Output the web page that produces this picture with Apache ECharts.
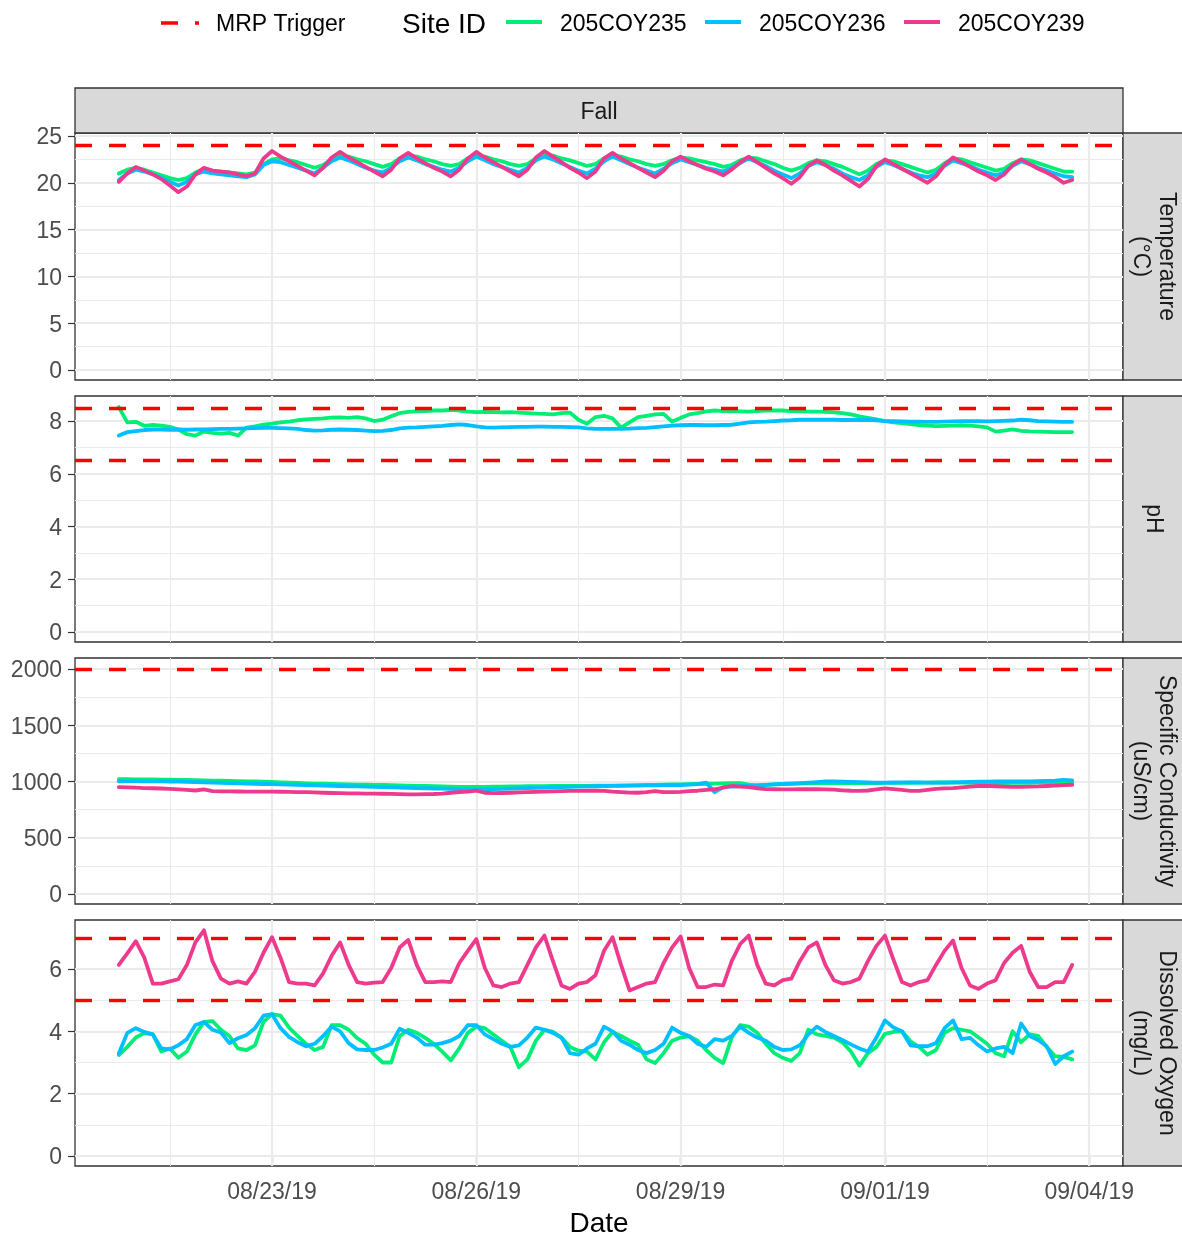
<!DOCTYPE html>
<html><head><meta charset="utf-8">
<script src="https://cdn.jsdelivr.net/npm/echarts@6/dist/echarts.min.js"></script>
<style>html,body{margin:0;padding:0;background:#fff}#chart{width:1182px;height:1234px}</style>
</head><body><div id="chart"></div>
<script>
// ---- sampling: 3-hourly readings starting 08/20/19 18:00 ----
const startTime = '2019-08-20T18:00:00Z';
const stepHours = 3;

const siteIds = ['205COY235', '205COY236', '205COY239'];
const siteColors = ['#00EE76', '#00BFFF', '#EE3A8C'];

// Temperature (°C)
const temp235 = [21.0, 21.4,
 21.6, 21.4, 21.1, 20.8, 20.5, 20.3, 20.5, 21.1,
 21.5, 21.3, 21.2, 21.1, 21.0, 20.9, 21.1, 22.0,
 22.5, 22.6, 22.4, 22.2, 21.9, 21.6, 21.9, 22.5,
 22.9, 22.8, 22.5, 22.3, 22.0, 21.7, 22.0, 22.6,
 22.9, 22.8, 22.5, 22.3, 22.0, 21.8, 22.0, 22.6,
 22.9, 22.8, 22.5, 22.3, 22.0, 21.8, 22.0, 22.6,
 23.0, 22.9, 22.6, 22.4, 22.1, 21.8, 22.0, 22.6,
 22.9, 22.8, 22.5, 22.3, 22.0, 21.8, 22.0, 22.4,
 22.7, 22.6, 22.4, 22.2, 22.0, 21.7, 21.9, 22.4,
 22.7, 22.6, 22.3, 22.0, 21.6, 21.3, 21.6, 22.1,
 22.4, 22.3, 22.0, 21.7, 21.3, 20.9, 21.3, 22.0,
 22.4, 22.3, 22.0, 21.7, 21.4, 21.1, 21.4, 22.1,
 22.6, 22.5, 22.2, 21.9, 21.6, 21.3, 21.5, 22.1,
 22.5, 22.4, 22.1, 21.8, 21.5, 21.2, 21.2];
const temp236 = [20.3, 21.0,
 21.4, 21.2, 20.9, 20.5, 20.1, 19.7, 20.1, 20.9,
 21.2, 21.0, 20.9, 20.8, 20.7, 20.6, 20.9, 21.9,
 22.3, 22.2, 21.9, 21.6, 21.3, 21.0, 21.6, 22.3,
 22.7, 22.4, 22.0, 21.6, 21.3, 21.1, 21.6, 22.3,
 22.7, 22.4, 22.0, 21.7, 21.4, 21.2, 21.6, 22.3,
 22.8, 22.4, 22.0, 21.7, 21.4, 21.1, 21.6, 22.4,
 22.8, 22.5, 22.1, 21.7, 21.3, 21.0, 21.5, 22.3,
 22.8, 22.4, 22.0, 21.6, 21.3, 21.0, 21.5, 22.1,
 22.5, 22.2, 21.9, 21.6, 21.4, 21.2, 21.6, 22.1,
 22.6, 22.2, 21.8, 21.3, 20.9, 20.5, 21.0, 21.8,
 22.2, 21.9, 21.5, 21.0, 20.6, 20.3, 20.8, 21.7,
 22.2, 21.9, 21.5, 21.1, 20.8, 20.6, 21.0, 21.8,
 22.4, 22.1, 21.8, 21.4, 21.1, 20.8, 21.1, 21.8,
 22.3, 22.0, 21.6, 21.3, 21.0, 20.7, 20.6];
const temp239 = [20.1, 21.0,
 21.7, 21.3, 20.9, 20.4, 19.7, 19.0, 19.6, 20.9,
 21.6, 21.3, 21.2, 21.1, 20.9, 20.7, 21.0, 22.6,
 23.4, 22.8, 22.3, 21.8, 21.3, 20.8, 21.6, 22.7,
 23.3, 22.7, 22.2, 21.7, 21.2, 20.7, 21.4, 22.6,
 23.2, 22.6, 22.1, 21.6, 21.2, 20.7, 21.4, 22.6,
 23.3, 22.7, 22.2, 21.7, 21.2, 20.7, 21.4, 22.7,
 23.4, 22.8, 22.2, 21.6, 21.1, 20.5, 21.2, 22.6,
 23.2, 22.6, 22.1, 21.6, 21.1, 20.6, 21.3, 22.3,
 22.8, 22.3, 21.9, 21.5, 21.2, 20.8, 21.4, 22.2,
 22.8, 22.2, 21.6, 21.0, 20.5, 19.9, 20.6, 21.8,
 22.4, 21.9, 21.3, 20.8, 20.2, 19.6, 20.4, 21.8,
 22.5, 22.0, 21.5, 21.0, 20.5, 20.0, 20.7, 21.9,
 22.7, 22.2, 21.7, 21.2, 20.8, 20.3, 20.9, 21.9,
 22.5, 22.0, 21.5, 21.1, 20.6, 20.0, 20.3];

// pH (site 205COY239 has no pH)
const ph235 = [8.53, 7.95,
 7.97, 7.82, 7.85, 7.83, 7.78, 7.68, 7.50, 7.45,
 7.60, 7.55, 7.52, 7.55, 7.45, 7.75, 7.80, 7.86,
 7.90, 7.95, 7.98, 8.03, 8.06, 8.08, 8.10, 8.13,
 8.14, 8.12, 8.15, 8.10, 8.00, 8.05, 8.18, 8.30,
 8.35, 8.37, 8.38, 8.40, 8.40, 8.42, 8.40, 8.36,
 8.34, 8.35, 8.34, 8.33, 8.34, 8.32, 8.30, 8.28,
 8.27, 8.25, 8.30, 8.32, 8.05, 7.90, 8.15, 8.20,
 8.10, 7.75, 7.95, 8.15, 8.20, 8.25, 8.27, 7.98,
 8.12, 8.25, 8.30, 8.37, 8.40, 8.38, 8.37, 8.37,
 8.36, 8.38, 8.40, 8.40, 8.40, 8.38, 8.37, 8.36,
 8.36, 8.35, 8.33, 8.30, 8.25, 8.18, 8.12, 8.06,
 8.00, 7.95, 7.92, 7.88, 7.85, 7.83, 7.81, 7.82,
 7.83, 7.84, 7.83, 7.80, 7.76, 7.60, 7.64, 7.68,
 7.63, 7.61, 7.60, 7.59, 7.58, 7.58, 7.58];
const ph236 = [7.45, 7.58,
 7.62, 7.66, 7.68, 7.68, 7.67, 7.68, 7.67, 7.68,
 7.68, 7.69, 7.70, 7.70, 7.71, 7.72, 7.73, 7.74,
 7.74, 7.73, 7.72, 7.70, 7.66, 7.64, 7.65, 7.67,
 7.68, 7.67, 7.66, 7.64, 7.62, 7.63, 7.66, 7.72,
 7.75, 7.76, 7.78, 7.80, 7.82, 7.85, 7.87, 7.85,
 7.80, 7.76, 7.75, 7.76, 7.77, 7.78, 7.78, 7.79,
 7.79, 7.78, 7.78, 7.77, 7.76, 7.72, 7.70, 7.70,
 7.70, 7.70, 7.71, 7.73, 7.74, 7.77, 7.80, 7.83,
 7.84, 7.85, 7.85, 7.84, 7.84, 7.85, 7.86, 7.90,
 7.95, 7.97, 7.98, 8.00, 8.02, 8.03, 8.05, 8.05,
 8.05, 8.05, 8.05, 8.04, 8.04, 8.04, 8.05, 8.03,
 8.00, 8.00, 7.99, 7.98, 7.98, 7.97, 7.97, 7.98,
 7.99, 8.00, 8.00, 8.00, 7.99, 8.00, 8.01, 8.02,
 8.05, 8.03, 8.00, 7.99, 7.98, 7.97, 7.97];

// Specific Conductivity (uS/cm)
const sc235 = [1020, 1020,
 1019, 1018, 1018, 1017, 1016, 1015, 1014, 1012,
 1010, 1008, 1007, 1005, 1003, 1002, 1000, 998,
 996, 993, 990, 987, 984, 982, 980, 978,
 976, 974, 972, 971, 970, 969, 968, 966,
 964, 962, 960, 958, 957, 955, 953, 952,
 952, 953, 954, 955, 956, 957, 958, 958,
 959, 960, 960, 961, 962, 962, 963, 964,
 964, 965, 966, 968, 969, 970, 972, 974,
 975, 976, 978, 980, 982, 984, 985, 985,
 972, 965, 970, 975, 978, 980, 982, 984,
 985, 986, 986, 986, 985, 985, 985, 986,
 987, 988, 988, 989, 990, 990, 991, 991,
 991, 990, 989, 988, 987, 986, 986, 987,
 988, 989, 990, 991, 992, 993, 993];
const sc236 = [1002, 1003,
 1003, 1002, 1002, 1001, 1000, 999, 997, 995,
 993, 990, 988, 985, 983, 981, 980, 978,
 976, 974, 972, 970, 968, 966, 964, 962,
 960, 958, 956, 954, 952, 950, 948, 946,
 944, 942, 940, 938, 936, 934, 932, 931,
 930, 931, 933, 935, 937, 939, 941, 943,
 945, 948, 950, 952, 954, 956, 958, 960,
 961, 962, 963, 964, 965, 966, 967, 968,
 969, 972, 976, 990, 905, 950, 955, 960,
 962, 966, 970, 974, 978, 982, 986, 990,
 995, 1000, 1000, 998, 996, 994, 992, 990,
 990, 991, 992, 992, 991, 990, 990, 990,
 992, 994, 996, 998, 999, 1000, 1000, 1001,
 1002, 1002, 1003, 1005, 1008, 1015, 1010];
const sc239 = [950, 948,
 945, 942, 940, 938, 935, 930, 925, 920,
 930, 915, 912, 912, 911, 910, 910, 910,
 910, 909, 908, 906, 905, 903, 900, 898,
 896, 895, 894, 893, 892, 891, 890, 888,
 886, 886, 887, 889, 893, 900, 906, 910,
 918, 900, 896, 898, 900, 903, 905, 908,
 910, 912, 914, 916, 917, 918, 918, 917,
 910, 906, 902, 900, 905, 915, 905, 906,
 908, 914, 918, 925, 931, 945, 960, 955,
 950, 940, 932, 931, 930, 930, 931, 931,
 931, 930, 927, 922, 918, 916, 920, 930,
 939, 932, 925, 917, 916, 925, 935, 939,
 942, 948, 955, 960, 961, 958, 955, 953,
 952, 954, 956, 960, 964, 968, 971];

// Dissolved Oxygen (mg/L)
const do235 = [3.24, 3.50,
 3.80, 3.94, 3.90, 3.35, 3.45, 3.15, 3.35, 3.90,
 4.30, 4.33, 4.05, 3.85, 3.45, 3.40, 3.55, 4.30,
 4.55, 4.50, 4.12, 3.85, 3.60, 3.40, 3.50, 4.20,
 4.20, 4.05, 3.78, 3.60, 3.25, 3.00, 3.00, 3.85,
 4.05, 3.95, 3.79, 3.60, 3.35, 3.07, 3.45, 3.95,
 4.15, 4.10, 3.90, 3.70, 3.50, 2.85, 3.10, 3.70,
 4.05, 3.98, 3.80, 3.50, 3.38, 3.35, 3.10, 3.65,
 3.98, 3.85, 3.70, 3.57, 3.10, 2.98, 3.30, 3.70,
 3.80, 3.84, 3.70, 3.40, 3.15, 2.98, 3.80, 4.20,
 4.15, 3.95, 3.60, 3.30, 3.15, 3.05, 3.30, 4.05,
 3.90, 3.85, 3.80, 3.65, 3.35, 2.90, 3.30, 3.50,
 3.92, 3.98, 4.00, 3.68, 3.50, 3.25, 3.40, 3.95,
 4.10, 4.05, 4.00, 3.80, 3.60, 3.30, 3.20, 4.00,
 3.65, 3.90, 3.85, 3.50, 3.20, 3.18, 3.10];
const do236 = [3.29, 3.95,
 4.10, 3.98, 3.90, 3.45, 3.42, 3.55, 3.75, 4.20,
 4.30, 4.05, 3.96, 3.62, 3.78, 3.88, 4.10, 4.50,
 4.55, 4.10, 3.82, 3.65, 3.52, 3.60, 3.85, 4.15,
 4.00, 3.62, 3.42, 3.40, 3.40, 3.48, 3.60, 4.08,
 3.95, 3.80, 3.57, 3.57, 3.62, 3.70, 3.85, 4.20,
 4.20, 3.90, 3.75, 3.60, 3.50, 3.55, 3.80, 4.12,
 4.05, 3.95, 3.80, 3.30, 3.25, 3.45, 3.60, 4.15,
 4.00, 3.70, 3.57, 3.40, 3.30, 3.40, 3.60, 4.12,
 3.95, 3.85, 3.60, 3.50, 3.75, 3.70, 3.85, 4.15,
 3.95, 3.80, 3.70, 3.50, 3.40, 3.42, 3.55, 3.90,
 4.15, 3.98, 3.85, 3.72, 3.58, 3.45, 3.35, 3.80,
 4.35, 4.12, 4.00, 3.55, 3.52, 3.52, 3.62, 4.10,
 4.35, 3.75, 3.79, 3.55, 3.35, 3.45, 3.50, 3.30,
 4.25, 3.85, 3.72, 3.52, 2.95, 3.20, 3.35];
const do239 = [6.13, 6.50,
 6.89, 6.36, 5.53, 5.53, 5.60, 5.67, 6.13, 6.85,
 7.24, 6.25, 5.69, 5.53, 5.60, 5.53, 5.91, 6.52,
 7.02, 6.36, 5.58, 5.53, 5.53, 5.47, 5.86, 6.42,
 6.85, 6.13, 5.58, 5.53, 5.56, 5.58, 6.03, 6.69,
 6.93, 6.13, 5.58, 5.58, 5.60, 5.58, 6.19, 6.58,
 6.96, 6.03, 5.47, 5.42, 5.53, 5.58, 6.13, 6.69,
 7.07, 6.25, 5.47, 5.36, 5.53, 5.58, 5.80, 6.58,
 7.02, 6.13, 5.31, 5.42, 5.53, 5.58, 6.19, 6.69,
 7.04, 6.03, 5.42, 5.42, 5.50, 5.47, 6.25, 6.80,
 7.07, 6.13, 5.53, 5.47, 5.64, 5.69, 6.25, 6.69,
 6.85, 6.13, 5.64, 5.53, 5.58, 5.69, 6.25, 6.74,
 7.07, 6.30, 5.58, 5.47, 5.58, 5.64, 6.13, 6.58,
 6.91, 6.03, 5.47, 5.36, 5.53, 5.64, 6.19, 6.52,
 6.74, 5.91, 5.42, 5.42, 5.58, 5.58, 6.13];

// MRP trigger levels per panel
const tempTrigger = [24];
const phTrigger = [8.5, 6.5];
const scTrigger = [2000];
const doTrigger = [7, 5];

// tick labels
const xTickDates = ['2019-08-23', '2019-08-26', '2019-08-29', '2019-09-01', '2019-09-04'];
const xMinorDates = ['2019-08-21T12:00:00Z', '2019-08-24T12:00:00Z', '2019-08-27T12:00:00Z', '2019-08-30T12:00:00Z', '2019-09-02T12:00:00Z'];
const tempTicks = [0, 5, 10, 15, 20, 25];
const tempMinor = [2.5, 7.5, 12.5, 17.5, 22.5];
const phTicks = [0, 2, 4, 6, 8];
const phMinor = [1, 3, 5, 7];
const scTicks = [0, 500, 1000, 1500, 2000];
const scMinor = [250, 750, 1250, 1750];
const doTicks = [0, 2, 4, 6];
const doMinor = [1, 3, 5];

const panelNames = ['Temperature\n(°C)', 'pH', 'Specific Conductivity\n(uS/cm)', 'Dissolved Oxygen\n(mg/L)'];

// ---- build ----
const t0 = Date.parse(startTime);
const toTs = s => Date.parse(s.length === 10 ? s + 'T00:00:00Z' : s);
const withTime = arr => arr.map((v, i) => [t0 + i * stepHours * 3600000, v]);

const FONT = "'Liberation Sans', Arial, sans-serif";
const xMin = Date.parse('2019-08-20T02:34:00Z');
const xMax = Date.parse('2019-09-04T11:54:00Z');

const panels = [
  { top: 133, height: 247, min: -1.07, max: 25.32, ticks: tempTicks, minor: tempMinor, trig: tempTrigger, series: [temp235, temp236, temp239] },
  { top: 396, height: 246, min: -0.38, max: 8.95, ticks: phTicks, minor: phMinor, trig: phTrigger, series: [ph235, ph236, null] },
  { top: 658, height: 246, min: -89, max: 2098, ticks: scTicks, minor: scMinor, trig: scTrigger, series: [sc235, sc236, sc239] },
  { top: 920, height: 246, min: -0.32, max: 7.57, ticks: doTicks, minor: doMinor, trig: doTrigger, series: [do235, do236, do239] }
];

const pad = n => (n < 10 ? '0' : '') + n;
const fmtDate = v => { const d = new Date(v); return pad(d.getUTCMonth() + 1) + '/' + pad(d.getUTCDate()) + '/' + String(d.getUTCFullYear()).slice(2); };

const grid = [], xAxis = [], yAxis = [], series = [];
panels.forEach((p, i) => {
  const last = i === panels.length - 1;
  grid.push({ left: 75, right: 59, top: p.top, height: p.height, show: true, borderColor: '#333333', borderWidth: 1.3, backgroundColor: '#ffffff', containLabel: false });
  xAxis.push({
    type: 'value', gridIndex: i, min: xMin, max: xMax, scale: true,
    axisLine: { show: false },
    axisTick: { show: last, customValues: xTickDates.map(toTs), length: 7, lineStyle: { color: '#333333', width: 1.2 } },
    axisLabel: { show: last, customValues: xTickDates.map(toTs), formatter: v => fmtDate(v), fontFamily: FONT, fontSize: 23, color: '#4D4D4D', margin: 15 },
    splitLine: { show: false }
  });
  yAxis.push({
    type: 'value', gridIndex: i, min: p.min, max: p.max,
    axisLine: { show: false },
    axisTick: { show: true, customValues: p.ticks, length: 7, lineStyle: { color: '#333333', width: 1.2 } },
    axisLabel: { customValues: p.ticks, formatter: v => String(v), fontFamily: FONT, fontSize: 23, color: '#4D4D4D', margin: 13, verticalAlign: 'top', lineHeight: 4 },
    splitLine: { show: false }
  });
  const gl = [];
  p.minor.forEach(v => gl.push({ yAxis: v, lineStyle: { color: '#EBEBEB', width: 1.1, type: 'solid' } }));
  xMinorDates.forEach(v => gl.push({ xAxis: toTs(v), lineStyle: { color: '#EBEBEB', width: 1.1, type: 'solid' } }));
  p.ticks.forEach(v => gl.push({ yAxis: v, lineStyle: { color: '#EBEBEB', width: 2.2, type: 'solid' } }));
  xTickDates.forEach(v => gl.push({ xAxis: toTs(v), lineStyle: { color: '#EBEBEB', width: 2.2, type: 'solid' } }));
  series.push({ type: 'line', name: 'grid' + i, xAxisIndex: i, yAxisIndex: i, data: [], silent: true, z: 1,
    markLine: { silent: true, symbol: 'none', z: 1, label: { show: false }, emphasis: { disabled: true }, animation: false, data: gl } });
  p.series.forEach((arr, k) => {
    if (!arr) return;
    series.push({ type: 'line', name: siteIds[k], xAxisIndex: i, yAxisIndex: i, data: withTime(arr), showSymbol: false, symbol: 'none', z: 3 + k * 0.1,
      lineStyle: { color: siteColors[k], width: 3.8, join: 'round', cap: 'round' }, itemStyle: { color: siteColors[k] }, silent: true });
  });
  series.push({ type: 'line', name: 'MRP Trigger', xAxisIndex: i, yAxisIndex: i, data: [], silent: true, z: 6,
    markLine: { silent: true, symbol: 'none', z: 6, label: { show: false }, emphasis: { disabled: true }, animation: false,
      data: p.trig.map(v => ({ yAxis: v, lineStyle: { color: '#FF0000', width: 3.4, type: [17, 17] } })) } });
});

const graphic = [];
graphic.push({ type: 'rect', shape: { x: 75, y: 88, width: 1048, height: 45 }, style: { fill: '#D9D9D9', stroke: '#333333', lineWidth: 1.3 }, z: 0 });
graphic.push({ type: 'text', x: 599, y: 113, style: { text: 'Fall', font: '23px ' + FONT, fill: '#1A1A1A', align: 'center', verticalAlign: 'middle' }, z: 1 });
panels.forEach((p, i) => {
  graphic.push({ type: 'rect', shape: { x: 1123, y: p.top, width: 62, height: p.height }, style: { fill: '#D9D9D9', stroke: '#333333', lineWidth: 1.3 }, z: 0 });
  graphic.push({ type: 'text', x: 1153, y: p.top + p.height / 2, rotation: -Math.PI / 2,
    style: { text: panelNames[i], font: '23px ' + FONT, fill: '#1A1A1A', align: 'center', verticalAlign: 'middle', lineHeight: 26 }, z: 1 });
});
graphic.push({ type: 'text', x: 599, y: 1224, style: { text: 'Date', font: '28px ' + FONT, fill: '#000000', align: 'center', verticalAlign: 'middle' } });
graphic.push({ type: 'line', shape: { x1: 161, y1: 23, x2: 199, y2: 23 }, style: { stroke: '#FF0000', lineWidth: 3.4, lineDash: [17, 17] } });
graphic.push({ type: 'text', x: 216, y: 25, style: { text: 'MRP Trigger', font: '23px ' + FONT, fill: '#000000', verticalAlign: 'middle' } });
graphic.push({ type: 'text', x: 402, y: 25, style: { text: 'Site ID', font: '28px ' + FONT, fill: '#000000', verticalAlign: 'middle' } });
const legX = [506, 705, 904];
siteIds.forEach((s, k) => {
  graphic.push({ type: 'line', shape: { x1: legX[k], y1: 22, x2: legX[k] + 36, y2: 22 }, style: { stroke: siteColors[k], lineWidth: 4 } });
  graphic.push({ type: 'text', x: legX[k] + 54, y: 25, style: { text: s, font: '23px ' + FONT, fill: '#000000', verticalAlign: 'middle' } });
});

const chart = echarts.init(document.getElementById('chart'), null, { renderer: 'canvas' });
chart.setOption({ animation: false, backgroundColor: '#ffffff', grid, xAxis, yAxis, series, graphic });
</script></body></html>
